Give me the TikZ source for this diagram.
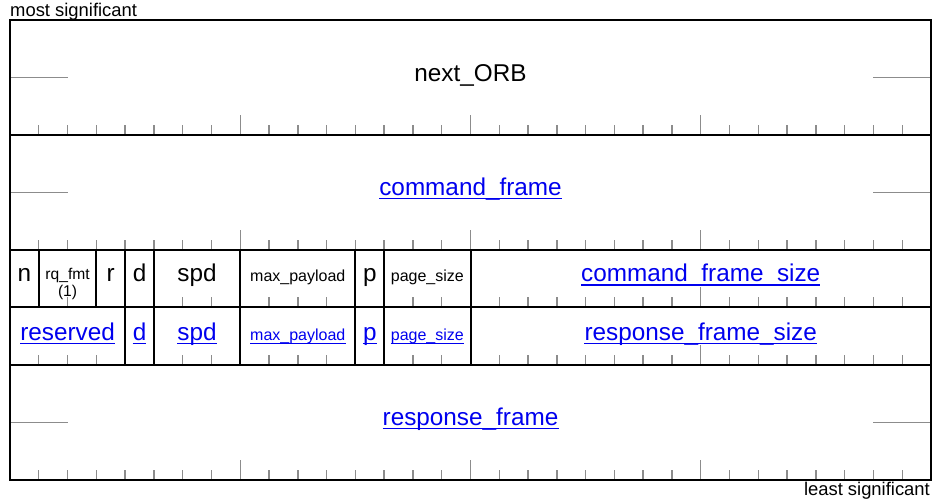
\documentclass[tikz,border=0pt]{standalone}
\usepackage{fontspec}
\setmainfont{Liberation Sans}
\definecolor{linkblue}{RGB}{0,0,238}
\definecolor{tickgray}{RGB}{140,140,140}

\begin{document}
\begin{tikzpicture}[x=1pt,y=-1pt,
  big/.style={font=\fontsize{24.3}{29}\selectfont, inner sep=0pt, anchor=base},
  mid/.style={font=\fontsize{16}{19}\selectfont, inner sep=0pt, anchor=base},
  small/.style={font=\fontsize{15.6}{18}\selectfont, inner sep=0pt, anchor=base},
  note/.style={font=\fontsize{18.4}{21}\selectfont, inner sep=0pt},
  link/.style={text=linkblue,
    append after command={([yshift=-3.4pt]\tikzlastnode.base west)
      edge[draw=linkblue, line width=1.6pt] ([yshift=-3.4pt]\tikzlastnode.base east)}},
  tickline/.style={draw=tickgray, line width=1.4pt},
  sideline/.style={draw=tickgray, line width=1.6pt},
  fieldline/.style={draw=black, line width=2pt}]
\useasboundingbox (0,0) rectangle (933,500);
\def\bw{28.78125}

% bit ticks along the bottom of every row (long ones every 8 bits)
\foreach \r in {135,250,307,365,480} {
  \foreach \k in {1,...,31}
    \draw[tickline] ({10+\k*\bw},\r) -- ++(0,-10);
  \foreach \k in {8,16,24}
    \draw[tickline] ({10+\k*\bw},\r) -- ++(0,-20);
}

% continuation marks of the 64-bit fields
\foreach \y in {77.5,192.5,422.5} {
  \draw[sideline] (10,\y) -- ({10+2*\bw},\y);
  \draw[sideline] ({10+30*\bw},\y) -- (931,\y);
}

% outline, row separators and field borders
\draw[fieldline] (10,20) rectangle (931,480);
\foreach \y in {135,250,307,365}
  \draw[fieldline] (10,\y) -- (931,\y);
\foreach \k in {1,3,4,5,8,12,13,16}
  \draw[fieldline] ({10+\k*\bw},250) -- ({10+\k*\bw},307);
\foreach \k in {4,5,8,12,13,16}
  \draw[fieldline] ({10+\k*\bw},307) -- ({10+\k*\bw},365);

% wide fields
\node[big] (nextorb) at (470.5,81.7) {next\_ORB};
\node[big,link] (cmdframe) at (470.5,195) {command\_frame};
\node[big,link] (rspframe) at (470.5,425) {response\_frame};

% request format word
\node[big] (fn) at ({10+0.5*\bw},281.5) {n};
\node[small] (frq) at ({10+2*\bw},279.5) {rq\_fmt};
\node[small] (frqnote) at ({10+2*\bw},296.5) {(1)};
\node[big] (fr) at ({10+3.5*\bw},281.5) {r};
\node[big] (fd) at ({10+4.5*\bw},281.5) {d};
\node[big] (fspd) at ({10+6.5*\bw},281.5) {spd};
\node[mid] (fmax) at ({10+10*\bw},281.5) {max\_payload};
\node[big] (fp) at ({10+12.5*\bw},281.5) {p};
\node[mid] (fpage) at ({10+14.5*\bw},281.5) {page\_size};
\node[big,link] (fcmdsize) at ({10+24*\bw},281.5) {command\_frame\_size};

% response format word
\node[big,link] (gres) at ({10+2*\bw},340) {reserved};
\node[big,link] (gd) at ({10+4.5*\bw},340) {d};
\node[big,link] (gspd) at ({10+6.5*\bw},340) {spd};
\node[mid,link] (gmax) at ({10+10*\bw},340) {max\_payload};
\node[big,link] (gp) at ({10+12.5*\bw},340) {p};
\node[mid,link] (gpage) at ({10+14.5*\bw},340) {page\_size};
\node[big,link] (grspsize) at ({10+24*\bw},340) {response\_frame\_size};

% byte order notes
\node[note,anchor=base west] (msb) at (10,16.5) {most significant};
\node[note,anchor=base east] (lsb) at (930,495) {least significant};
\end{tikzpicture}
\end{document}
